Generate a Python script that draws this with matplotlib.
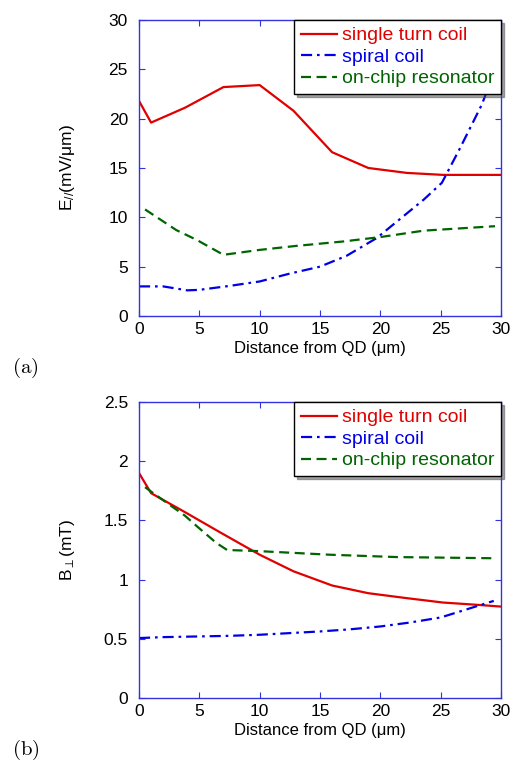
import matplotlib.pyplot as plt

plt.rcParams['font.family'] = ['Liberation Sans', 'DejaVu Sans']
plt.rcParams['mathtext.fontset'] = 'custom'
plt.rcParams['mathtext.rm'] = 'Liberation Sans'
plt.rcParams['mathtext.it'] = 'Liberation Sans'

# panel (a): E parallel
e_single_x = [0, 1, 3.8, 7, 10, 12.8, 16, 19, 22.2, 25.2, 30]
e_single_y = [21.8, 19.6, 21.1, 23.2, 23.4, 20.8, 16.6, 15.0, 14.5, 14.3, 14.3]
e_spiral_x = [0, 2, 4, 5, 7.5, 10, 12.5, 15, 17.2, 19.7, 21.9, 23.6, 25.1, 26.6, 28.4, 30]
e_spiral_y = [3.0, 3.0, 2.6, 2.65, 3.05, 3.5, 4.3, 5.0, 6.1, 7.9, 10.1, 11.8, 13.5, 17.0, 21.4, 26.5]
e_res_x = [0.5, 3.1, 4.8, 7, 10, 13, 16.9, 20, 23.6, 29.5]
e_res_y = [10.8, 8.7, 7.7, 6.2, 6.7, 7.1, 7.55, 8.0, 8.65, 9.1]

# panel (b): B perpendicular
b_single_x = [0, 1, 3.8, 6.7, 10, 12.8, 16, 19, 22.2, 25.2, 28, 30]
b_single_y = [1.90, 1.73, 1.57, 1.40, 1.21, 1.07, 0.95, 0.885, 0.843, 0.806, 0.787, 0.772]
b_spiral_x = [0, 2, 5, 7.5, 10, 12.5, 15, 17.5, 20, 22.5, 25, 27.2, 29.4]
b_spiral_y = [0.506, 0.514, 0.52, 0.525, 0.534, 0.548, 0.562, 0.58, 0.604, 0.638, 0.68, 0.75, 0.82]
b_res_x = [0.5, 2, 3.8, 4.8, 6.4, 7.3, 10, 15.8, 21.4, 29.5]
b_res_y = [1.78, 1.67, 1.54, 1.45, 1.31, 1.25, 1.24, 1.21, 1.19, 1.18]

labels = ['single turn coil', 'spiral coil', 'on-chip resonator']
red, blue, green = '#e00000', '#0000e6', '#006400'
axcol = '#3333dd'
solid = '-'
dashdot = (0, (5, 2.2, 1.2, 2.2))
dashed = (0, (4.5, 2.5))

fig = plt.figure(figsize=(5.22, 7.62), dpi=100)
ax1 = fig.add_axes([0.2663, 0.5853, 0.6935, 0.3885])
ax2 = fig.add_axes([0.2663, 0.0840, 0.6935, 0.3885])


def style(ax):
    for s in ax.spines.values():
        s.set_color(axcol)
        s.set_linewidth(1.0)
    ax.tick_params(direction='in', top=True, right=True, color=axcol,
                   labelsize=12.5, length=4)
    ax.tick_params(axis='y', pad=8)
    ax.tick_params(axis='x', pad=4)
    ax.set_xlim(0, 30)
    ax.set_xticks([0, 5, 10, 15, 20, 25, 30])
    ax.set_xlabel('Distance from QD (\u03bcm)', fontsize=12, labelpad=3)
    ax.yaxis.set_label_coords(-0.171, 0.5)
    leg = ax.legend(loc='upper right', fancybox=False, shadow=True,
                    edgecolor='black', fontsize=14, handlelength=1.85,
                    borderaxespad=0, labelspacing=0.2, handletextpad=0.25,
                    borderpad=0.35, framealpha=1)
    leg.get_frame().set_linewidth(1.0)
    for t, c in zip(leg.get_texts(), [red, blue, green]):
        t.set_color(c)


ax1.plot(e_single_x, e_single_y, linestyle=solid, color=red, lw=1.6, label=labels[0])
ax1.plot(e_spiral_x, e_spiral_y, linestyle=dashdot, color=blue, lw=1.6, label=labels[1])
ax1.plot(e_res_x, e_res_y, linestyle=dashed, color=green, lw=1.6, label=labels[2])
ax1.set_ylim(0, 30)
ax1.set_yticks([0, 5, 10, 15, 20, 25, 30])
ax1.set_ylabel(r'E$_{//}$(mV/$\mu$m)', fontsize=12.5)
style(ax1)

ax2.plot(b_single_x, b_single_y, linestyle=solid, color=red, lw=1.6, label=labels[0])
ax2.plot(b_spiral_x, b_spiral_y, linestyle=dashdot, color=blue, lw=1.6, label=labels[1])
ax2.plot(b_res_x, b_res_y, linestyle=dashed, color=green, lw=1.6, label=labels[2])
ax2.set_ylim(0, 2.5)
ax2.set_yticks([0, 0.5, 1, 1.5, 2, 2.5])
ax2.set_yticklabels(['0', '0.5', '1', '1.5', '2', '2.5'])
ax2.set_ylabel(r'B$_\perp$(mT)', fontsize=12.5)
style(ax2)

fig.text(0.023, 0.5177, r'$\mathrm{(a)}$', math_fontfamily='cm', fontsize=15, va='center')
fig.text(0.023, 0.0157, r'$\mathrm{(b)}$', math_fontfamily='cm', fontsize=15, va='center')

fig.savefig('out.png', dpi=100)
